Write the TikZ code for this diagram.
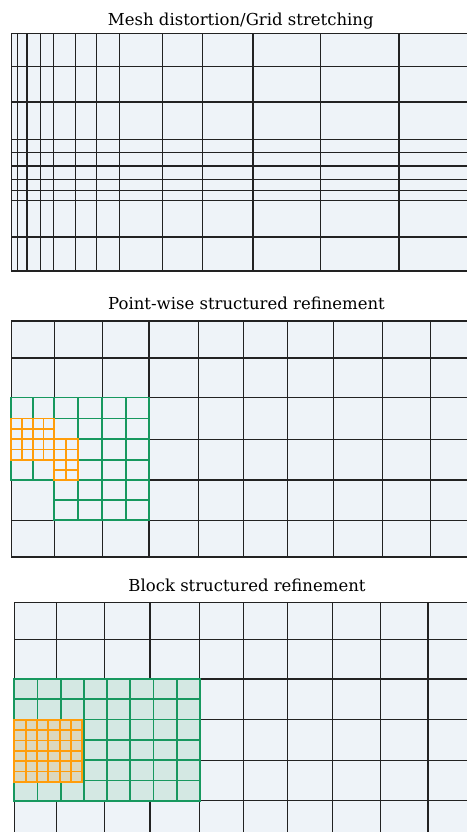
\documentclass[tikz,border=0pt]{standalone}
\usepackage{fontspec}
\setmainfont{DejaVu Serif}
\definecolor{cellbg}{HTML}{EEF3F8}
\definecolor{gridline}{HTML}{222222}
\definecolor{fineg}{HTML}{17985F}
\definecolor{fineo}{HTML}{FF9D0A}
\definecolor{fillg}{HTML}{D4E8E3}
\definecolor{fillo}{HTML}{DCD8BE}
\tikzset{
  coarse/.style={draw=gridline, line width=1.4pt},
  levelone/.style={draw=fineg, line width=1.8pt},
  leveltwo/.style={draw=fineo, line width=1.8pt},
  paneltitle/.style={anchor=base, inner sep=0pt, font=\fontsize{16.5}{18}\selectfont, text=black},
}
% refined patch: style, x0, y0, x1, y1, columns, rows
\newcommand\refpatch[7]{%
  \pgfmathtruncatemacro\nxm{#6-1}%
  \pgfmathtruncatemacro\nym{#7-1}%
  \foreach \k in {1,...,\nxm}{\draw[#1] ({#2+\k*(#4-#2)/#6},#3) -- ({#2+\k*(#4-#2)/#6},#5);}
  \foreach \k in {1,...,\nym}{\draw[#1] (#2,{#3+\k*(#5-#3)/#7}) -- (#4,{#3+\k*(#5-#3)/#7});}
  \draw[#1] (#2,#3) rectangle (#4,#5);
}
\begin{document}
\begin{tikzpicture}[x=1pt, y=-1pt]
\useasboundingbox (0,0) rectangle (467,832);

% ---------- stretched mesh ----------
\node[paneltitle] (t1) at (240.8,26) {Mesh distortion/Grid stretching};
\fill[cellbg] (11.3,33.3) rectangle (467,271);
\foreach \x in {11.3,17.3,27,40.3,53.3,75.3,96.3,119.3,162.3,202.3,253,320.7,399}
  \draw[coarse] (\x,33.3) -- (\x,271);
\foreach \y in {33.3,66.7,102,139.3,152.7,166,179.3,190.3,200.7,237,271}
  \draw[coarse] (11.3,\y) -- (467,\y);

% ---------- point-wise refinement ----------
\node[paneltitle] (t2) at (246.5,309) {Point-wise structured refinement};
\fill[cellbg] (11.3,321) rectangle (467,557);
\foreach \x in {11.3,54.3,102.3,149,198.7,243.3,287.7,333.3,382.3,430.3}
  \draw[coarse] (\x,321) -- (\x,557);
\foreach \y in {321,358,397.5,439.3,480,520.3,557}
  \draw[coarse] (11.3,\y) -- (467,\y);
% first level: refined coarse cells
\refpatch{levelone}{11.3}{397.5}{54.3}{439.3}{2}{2}
\refpatch{levelone}{54.3}{397.5}{102.3}{439.3}{2}{2}
\refpatch{levelone}{102.3}{397.5}{149}{439.3}{2}{2}
\refpatch{levelone}{11.3}{439.3}{54.3}{480}{2}{2}
\refpatch{levelone}{54.3}{439.3}{102.3}{480}{2}{2}
\refpatch{levelone}{102.3}{439.3}{149}{480}{2}{2}
\refpatch{levelone}{54.3}{480}{102.3}{520.3}{2}{2}
\refpatch{levelone}{102.3}{480}{149}{520.3}{2}{2}
% second level: refined fine cells
\refpatch{leveltwo}{11.3}{418.4}{32.8}{439.3}{2}{2}
\refpatch{leveltwo}{32.8}{418.4}{54.3}{439.3}{2}{2}
\refpatch{leveltwo}{11.3}{439.3}{32.8}{459.7}{2}{2}
\refpatch{leveltwo}{32.8}{439.3}{54.3}{459.7}{2}{2}
\refpatch{leveltwo}{54.3}{439.3}{78.3}{459.7}{2}{2}
\refpatch{leveltwo}{54.3}{459.7}{78.3}{480}{2}{2}

% ---------- block refinement ----------
\node[paneltitle] (t3) at (247,591) {Block structured refinement};
\fill[cellbg] (14.3,602.7) rectangle (467,832);
\foreach \x in {14.3,56.7,104.3,150,199.3,243.3,287.7,332.3,380.3,428}
  \draw[coarse] (\x,602.7) -- (\x,832);
\foreach \y in {602.7,639.7,679,719.7,760.3,800.7}
  \draw[coarse] (14.3,\y) -- (467,\y);
% first level block
\fill[fillg] (14.3,679) rectangle (200,800.7);
\refpatch{levelone}{14.3}{679}{200}{800.7}{8}{6}
\draw[fineg, line width=2.2pt] (14.3,679) rectangle (200,800.7);
% second level block
\fill[fillo] (14.3,720) rectangle (82.3,781.7);
\refpatch{leveltwo}{14.3}{720}{82.3}{781.7}{6}{6}
\draw[fineo, line width=2.2pt] (14.3,720) rectangle (82.3,781.7);
\end{tikzpicture}
\end{document}
